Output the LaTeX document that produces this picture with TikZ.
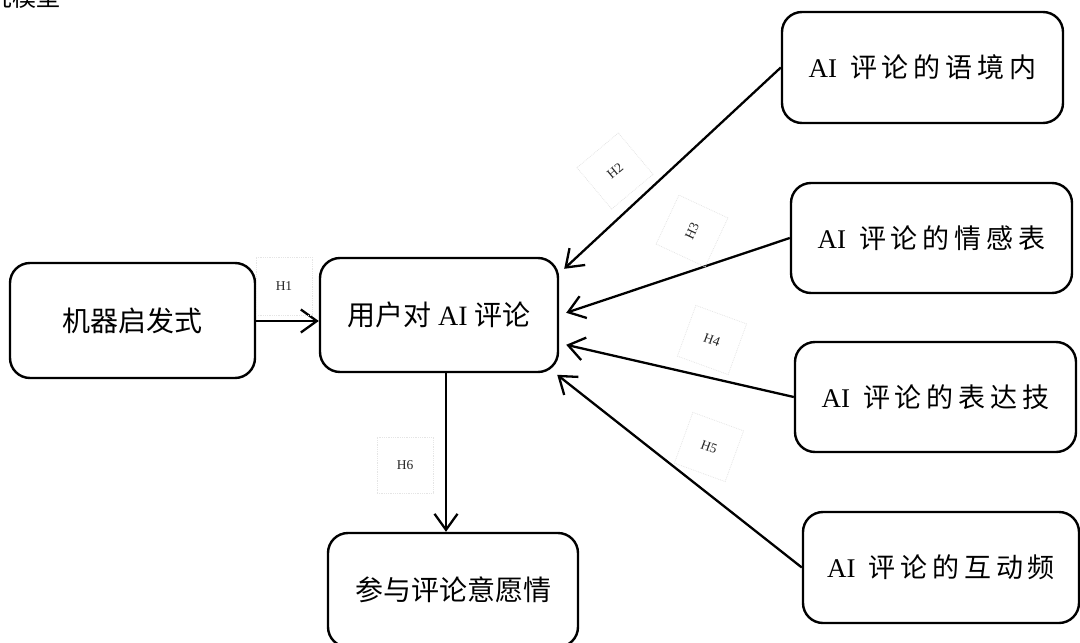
\documentclass[tikz,border=0pt]{standalone}
\usepackage{fontspec}
\setmainfont{Liberation Serif}
\newfontfamily\cjk{Noto Sans CJK SC}
\newfontfamily\cjksp[LetterSpace=18]{Noto Sans CJK SC}
\usetikzlibrary{arrows.meta,calc}
\begin{document}
\begin{tikzpicture}[x=1pt,y=-1pt,
  box/.style={draw=black, line width=2.4pt, rounded corners=20pt, inner sep=0pt, align=center},
  lbox/.style={box, font=\fontsize{28}{30}\selectfont},
  rbox/.style={box, minimum width=281pt, font=\fontsize{27}{29}\selectfont},
  arr/.style={line width=2.3pt, -{Straight Barb[length=16pt,width=23pt,line width=2.3pt]}},
  hlab/.style={draw=gray!20, densely dotted, line width=0.8pt, minimum width=54pt, minimum height=54pt, inner sep=0pt, font=\fontsize{13.5}{13.5}\selectfont, text=black!85}
]
\useasboundingbox (0,0) rectangle (1080,643);

% cut-off title
\node[anchor=base west, inner sep=0pt, font=\cjk\fontsize{24}{24}\selectfont] (title) at (-36,6) {研究模型};

% boxes
\node[lbox, minimum width=245pt, minimum height=115pt] (b1) at (132.5,320.5) {\cjk 机器启发式};
\node[lbox, minimum width=238pt, minimum height=114pt] (b2) at (439,315) {{\cjk 用户对}\hspace{7pt}AI\hspace{7pt}{\cjk 评论}};
\node[lbox, minimum width=250pt, minimum height=114pt] (b3) at (453,590) {\cjk 参与评论意愿情};
\node[rbox, minimum height=111pt] (b4) at (922.5,67.5) {AI\hspace{13pt}{\cjksp 评论的语境内}};
\node[rbox, minimum height=110pt] (b5) at (931.5,238) {AI\hspace{13pt}{\cjksp 评论的情感表}};
\node[rbox, minimum height=110pt] (b6) at (935.5,397) {AI\hspace{13pt}{\cjksp 评论的表达技}};
\node[rbox, minimum width=276pt, minimum height=111pt] (b7) at (941,567.5) {AI\hspace{13pt}{\cjksp 评论的互动频}};

% arrow targets on b2
\coordinate (t2) at ($(b2.north east)+(5,12)$);
\coordinate (t3) at ($(b2.north east)+(7,56)$);
\coordinate (t4) at ($(b2.north east)+(7,88)$);
\coordinate (t5) at ($(b2.north east)+(-2,118)$);
\coordinate (s6) at ($(b2.south)+(7,0)$);

% connectors
\draw[arr] (b1.east |- 0,321) -- (b2.west |- 0,321);
\draw[arr] (s6) -- (s6 |- b3.north);
\draw[arr] (b4.west) -- (t2);
\draw[arr] (b5.west) -- (t3);
\draw[arr] (b6.west) -- (t4);
\draw[arr] (b7.west) -- (t5);

% labels
\node[hlab, minimum width=56pt, minimum height=58pt] (h1) at (284,286) {H1};
\node[hlab, minimum width=56pt, minimum height=56pt] (h6) at (405,465) {H6};
\node[hlab, rotate=40] (h2) at (615,171) {H2};
\node[hlab, rotate=65] (h3) at (692,231) {H3};
\node[hlab, rotate=-20] (h4) at (712,340) {H4};
\node[hlab, rotate=-20] (h5) at (709,447) {H5};
\end{tikzpicture}
\end{document}
